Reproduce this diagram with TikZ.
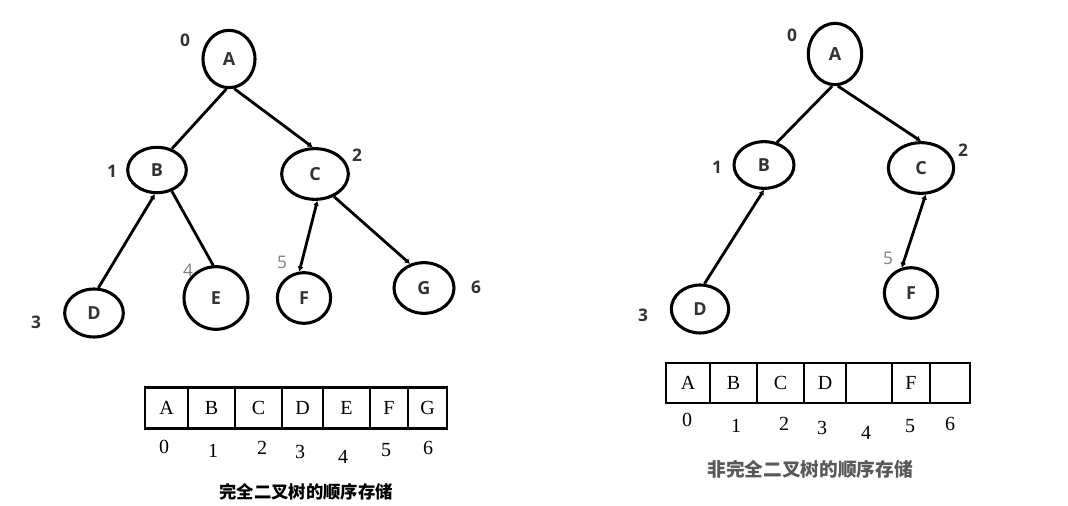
\documentclass[tikz,border=0pt]{standalone}
\usepackage{fontspec}
\setmainfont{Liberation Serif}
\setsansfont{Open Sans}
\newfontfamily\cjk{Noto Sans CJK SC}
\usetikzlibrary{shapes.geometric,arrows.meta}

\begin{document}
\begin{tikzpicture}[
  x=0.75pt, y=-0.75pt,
  tn/.style={ellipse, draw, line width=2.3pt, inner sep=0pt,
             font=\sffamily\bfseries\fontsize{13.5}{15}\selectfont, text=black!80},
  idx/.style={font=\sffamily\bfseries\fontsize{13}{15}\selectfont, text=black!80},
  gidx/.style={font=\sffamily\fontsize{13}{15}\selectfont, text=black!50},
  edge/.style={line width=2.1pt},
  arr/.style={edge, -{Latex[length=1.3mm,width=1.6mm]}},
  darr/.style={edge, {Latex[length=1.3mm,width=1.6mm]}-{Latex[length=1.3mm,width=1.6mm]}},
  cell/.style={draw, line width=1.8pt, inner sep=0pt, minimum height=31pt,
               font=\fontsize{15}{17}\selectfont,
               execute at begin node={\lower2.5pt\hbox\bgroup},
               execute at end node={\egroup}},
  num/.style={font=\fontsize{15}{17}\selectfont}
]
\useasboundingbox (0,0) rectangle (1068,506);

% complete binary tree
\node[tn, minimum width=39pt, minimum height=43pt] (lA) at (229,59) {A};
\node[tn, minimum width=44pt, minimum height=34pt] (lB) at (157,170) {B};
\node[tn, minimum width=50pt, minimum height=38pt] (lC) at (315,174) {C};
\node[tn, minimum width=44pt, minimum height=36pt] (lD) at (94,313) {D};
\node[tn, minimum width=48pt, minimum height=47pt] (lE) at (216,298) {E};
\node[tn, minimum width=40pt, minimum height=38pt] (lF) at (304,298) {F};
\node[tn, minimum width=45pt, minimum height=38pt] (lG) at (424,288) {G};

\node[idx] (ln0) at (185,40) {0};
\node[idx] (ln1) at (112,171) {1};
\node[idx] (ln2) at (357,155) {2};
\node[idx] (ln3) at (36,322) {3};
\node[gidx] (ln4) at (188,270) {4};
\node[gidx] (ln5) at (282,262) {5};
\node[idx] (ln6) at (476,287) {6};

\draw[edge] (lA.-95) -- (lB.55);
\draw[arr] (lA.-80) -- (lC.95);
\draw[arr] (lD.80) -- (lB.-95);
\draw[edge] (lB.-55) -- (lE.95);
\draw[darr] (lC.-85) -- (lF.100);
\draw[arr] (lC.-50) -- (lG.120);

% array of the complete tree
\node[cell, minimum width=43*0.75pt] (lc0) at (166.5,408) {A};
\node[cell, minimum width=47*0.75pt] (lc1) at (211.5,408) {B};
\node[cell, minimum width=47*0.75pt] (lc2) at (258.5,408) {C};
\node[cell, minimum width=41*0.75pt] (lc3) at (302.5,408) {D};
\node[cell, minimum width=47*0.75pt] (lc4) at (346.5,408) {E};
\node[cell, minimum width=38*0.75pt] (lc5) at (389,408) {F};
\node[cell, minimum width=39*0.75pt] (lc6) at (427.5,408) {G};

\node[num] (li0) at (164,447) {0};
\node[num] (li1) at (213,451) {1};
\node[num] (li2) at (262,448) {2};
\node[num] (li3) at (300,452) {3};
\node[num] (li4) at (343,457) {4};
\node[num] (li5) at (386,450) {5};
\node[num] (li6) at (428,448) {6};

\node[font=\cjk\bfseries\fontsize{13}{15}\selectfont] (lcap) at (306,492) {完全二叉树的顺序存储};

% non-complete binary tree
\node[tn, minimum width=40pt, minimum height=46pt] (rA) at (835,54) {A};
\node[tn, minimum width=45pt, minimum height=35pt] (rB) at (764,165) {B};
\node[tn, minimum width=49pt, minimum height=38pt] (rC) at (921,168) {C};
\node[tn, minimum width=43pt, minimum height=36pt] (rD) at (700,309) {D};
\node[tn, minimum width=40pt, minimum height=38pt] (rF) at (911,293) {F};

\node[idx] (rn0) at (792,35) {0};
\node[idx] (rn1) at (717,167) {1};
\node[idx] (rn2) at (963,150) {2};
\node[idx] (rn3) at (643,315) {3};
\node[gidx] (rn5) at (888,258) {5};

\draw[edge] (rA.-95) -- (rB.60);
\draw[arr] (rA.-85) -- (rC.90);
\draw[arr] (rD.80) -- (rB.-90);
\draw[darr] (rC.-80) -- (rF.110);

% array of the non-complete tree
\node[cell, minimum width=44*0.75pt, minimum height=30pt] (rc0) at (688,383) {A};
\node[cell, minimum width=47*0.75pt, minimum height=30pt] (rc1) at (733.5,383) {B};
\node[cell, minimum width=47*0.75pt, minimum height=30pt] (rc2) at (780.5,383) {C};
\node[cell, minimum width=42*0.75pt, minimum height=30pt] (rc3) at (825,383) {D};
\node[cell, minimum width=46*0.75pt, minimum height=30pt] (rc4) at (869,383) {};
\node[cell, minimum width=38*0.75pt, minimum height=30pt] (rc5) at (911,383) {F};
\node[cell, minimum width=40*0.75pt, minimum height=30pt] (rc6) at (950,383) {};

\node[num] (ri0) at (687,420) {0};
\node[num] (ri1) at (736,426) {1};
\node[num] (ri2) at (784,424) {2};
\node[num] (ri3) at (822,428) {3};
\node[num] (ri4) at (866,433) {4};
\node[num] (ri5) at (910,426) {5};
\node[num] (ri6) at (950,424) {6};

\node[font=\cjk\bfseries\fontsize{14}{16}\selectfont, text=black!65] (rcap) at (810,469) {非完全二叉树的顺序存储};
\end{tikzpicture}
\end{document}
